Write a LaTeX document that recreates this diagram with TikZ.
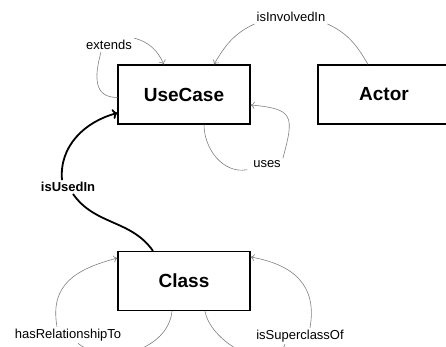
\documentclass[tikz,border=0pt]{standalone}
\usepackage{fontspec}
\setmainfont{Liberation Sans}
\usetikzlibrary{arrows.meta}

\begin{document}
\begin{tikzpicture}[x=1pt, y=1pt,
		box/.style={draw=black, line width=1.1pt, fill=white, minimum width=132pt, minimum height=59pt, font=\fontsize{19}{22}\selectfont\bfseries},
		rel/.style={inner sep=2pt, font=\fontsize{13}{15}\selectfont},
		link/.style={draw=gray, line width=0.6pt, >={To[length=4pt, width=7pt]}},
		strong/.style={draw=black, line width=1.8pt, >={To[length=5pt, width=10pt]}}]
				\useasboundingbox (0,0) rectangle (446,347);
				\clip (0,0) rectangle (446,347);
				% Concepts
				\node[box] (uc) at (184,252.5) {UseCase};
				\node[box] (act) at (384,252.5) {Actor};
				\node[box] (cls) at (184,66) {Class};
				% Relation names
				\node[rel] (lext) at (109,302) {extends};
				\node[rel] (linv) at (291,330) {isInvolvedIn};
				\node[rel] (luses) at (267,183) {uses};
				\node[rel, font=\fontsize{13}{15}\selectfont\bfseries] (lused) at (68,160) {isUsedIn};
				\node[rel] (lrel) at (68,12) {hasRelationshipTo};
				\node[rel] (lsup) at (300,11) {isSuperclassOf};
				% Relations of UseCase
				\draw[link] ([yshift=-3pt]uc.west) to[out=180, in=-105, looseness=1.3] ([xshift=-8pt]lext.south);
				\draw[link, ->] (lext.north east) to[out=-15, in=115] ([xshift=-20pt]uc.north);
				\draw[link] ([xshift=-16pt]act.north) to[out=120, in=-25] (linv.south east);
				\draw[link, ->] (linv.south west) to[out=205, in=60] ([xshift=30pt]uc.north);
				\draw[link] ([xshift=20pt]uc.south) to[out=-90, in=190] ([xshift=-4pt]luses.south west);
				\draw[link, ->] (luses.north east) to[out=75, in=-5, looseness=1.8] ([yshift=-10.5pt]uc.east);
				% Class is used in UseCase
				\draw[strong] ([xshift=-31pt]cls.north) to[out=125, in=-55] ([xshift=5pt]lused.south);
				\draw[strong, ->] ([xshift=-6pt]lused.north) to[out=95, in=195] ([yshift=-18.5pt]uc.west);
				% Relations of Class
				\draw[link] ([xshift=-12pt]cls.south) to[out=-95, in=-40] ([xshift=10pt]lrel.south);
				\draw[link, ->] ([xshift=-11pt]lrel.north) to[out=100, in=195, looseness=1.2] ([yshift=23pt]cls.west);
				\draw[link] ([xshift=21pt]cls.south) to[out=-80, in=-110] ([xshift=-15pt]lsup.south);
				\draw[link, ->] ([xshift=10pt]lsup.north) to[out=80, in=-10, looseness=1.2] ([yshift=24pt]cls.east);
			\end{tikzpicture}
\end{document}
